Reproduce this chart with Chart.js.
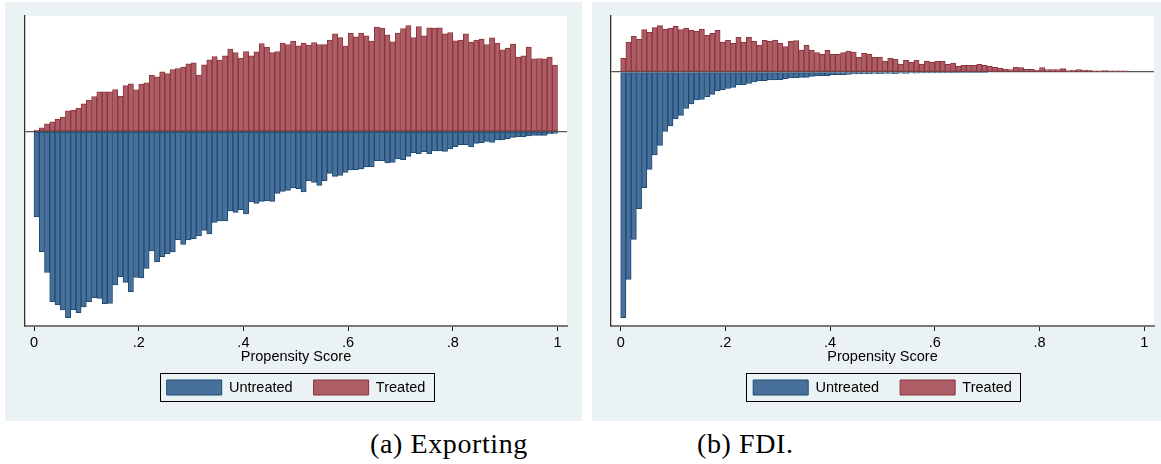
<!DOCTYPE html>
<html>
<head>
<meta charset="utf-8">
<script src="https://cdn.jsdelivr.net/npm/chart.js@4/dist/chart.umd.min.js"></script>
<style>
  body { margin: 0; background: #fff; width: 1161px; height: 464px; position: relative; overflow: hidden; }
  canvas { position: absolute; top: 2px; }
  #exp { left: 5px; }
  #fdi { left: 592px; }
  .cap { position: absolute; top: 430px; font-family: "Liberation Serif", serif; font-size: 28px; line-height: 1; letter-spacing: 0.6px; color: #000; white-space: nowrap; }
</style>
</head>
<body>
<canvas id="exp" width="577" height="419"></canvas>
<canvas id="fdi" width="569" height="419"></canvas>
<div class="cap" style="left:370px">(a) Exporting</div>
<div class="cap" style="left:697px">(b) FDI.</div>
<script>
// bins of width .01 on the propensity score, 0..1
const binWidth = 0.01;
const tickValues = [0, 0.2, 0.4, 0.6, 0.8, 1];
const tickLabels = ['0', '.2', '.4', '.6', '.8', '1'];
const seriesNames = ['Untreated', 'Treated'];

// (a) exporting - bar heights
const exportTreated = [
  1.3, 3.7, 7.7, 9.7, 12.3, 14.3, 20.7, 21.3, 23.3, 27.7,
  31.3, 35, 39.7, 39.7, 39.7, 42, 35.3, 46, 47.7, 41.7,
  47.3, 48.7, 56.3, 54.7, 59.7, 58, 62, 63, 64.3, 67.7,
  68.7, 56.3, 66.7, 71.7, 75, 71.3, 75.7, 82.3, 79, 73.3,
  80, 75.7, 79.7, 88, 84.3, 79, 80, 88.3, 87, 90.3,
  85.7, 88.3, 86.3, 89, 87, 87, 91.3, 97.7, 94, 85.3,
  98.3, 94.7, 98.3, 95.7, 90.3, 104.3, 103.3, 96.7, 89.7, 98.3,
  103, 106, 94, 105, 95.7, 103.7, 103.3, 103.7, 97.7, 99,
  90.7, 91.3, 97.7, 89.3, 91.3, 92.3, 87, 93.7, 88.3, 81.7,
  83.3, 87.3, 74.3, 75.7, 84.3, 72.7, 73, 72.7, 74.3, 66.3
];
const exportUntreated = [
  85.2, 120.2, 140.8, 170.5, 173.5, 178.5, 186.2, 178.2, 181.2, 175.5,
  170.2, 166.2, 166.8, 172.2, 171.8, 153.5, 145.2, 150.8, 160.2, 145.8,
  146.5, 136.8, 119.5, 130.5, 125.2, 122.2, 120.5, 108.2, 112.8, 108.5,
  107.2, 104.5, 98.8, 102.5, 90.8, 89.5, 89.5, 79.5, 80.8, 78.2,
  82.5, 70.5, 71.8, 69.8, 69.5, 69.8, 61.8, 59.8, 58.8, 56.5,
  57.2, 60.5, 49.2, 50.8, 53.8, 49.2, 41.8, 44.8, 43.8, 40.8,
  38.5, 38.2, 37.5, 35.5, 35.5, 29.2, 29.2, 31.5, 30.8, 27.5,
  28.2, 24.8, 21.2, 22.2, 20.2, 22.2, 19.5, 19.5, 19.8, 17.5,
  15.2, 13.2, 13.2, 15.2, 11.8, 11.2, 9.8, 10.8, 8.5, 8.5,
  7.2, 5.8, 5.2, 5.2, 4.5, 3.8, 3.8, 3.8, 2.5, 1.8
];

// (b) FDI
const fdiTreated = [
  13.7, 30, 35.7, 32.7, 42.3, 39.7, 44.3, 46.3, 42.7, 43.7,
  45.7, 42.3, 44, 41.7, 41, 43, 36.7, 38.7, 41.7, 30,
  31.7, 28.7, 34.7, 30, 34.7, 30.7, 27, 31.7, 30.7, 32,
  28.7, 25.3, 30.7, 31.3, 22, 27, 22, 19.3, 17.7, 21.7,
  17.7, 17.7, 19.3, 21, 20, 14.7, 18.7, 17.7, 14.7, 15,
  11, 14, 12.7, 8, 11.7, 9.7, 11.7, 8, 11, 10,
  10.7, 10.7, 7.7, 9, 5.7, 6.7, 6.7, 6.7, 7.7, 6.7,
  5.7, 4.7, 4, 3, 2.3, 4.7, 4.3, 2.7, 2.7, 2,
  4.3, 2.3, 2.3, 2.3, 3.3, 1.3, 1.7, 2.3, 2, 1.7,
  1.1, 1.1, 1.5, 1.1, 1.1, 1.1, 1.1
];
const fdiUntreated = [
  245.7, 207.3, 167.3, 136.7, 115.7, 97.3, 83, 73.3, 59.3, 54,
  47, 43.3, 36.3, 32, 28, 27.3, 24.7, 22.3, 18.7, 18,
  16.3, 15.3, 13, 12.7, 11.3, 10, 9, 8.7, 8, 8,
  7.7, 6.7, 6, 5.7, 5.3, 5.3, 4.3, 4, 3.7, 4,
  3, 2.7, 2.7, 2.3, 2, 2, 1.7, 2, 1.3, 1.7,
  1.5, 1.3, 1.6, 1.2, 1.3, 1.0, 1.2, 1.0, 0.9, 1.0,
  0.8, 1.0, 0.7, 0.8, 0.6, 0.7, 0.6, 0.5, 0.6, 0.5
];

const font = { family: '"Liberation Sans", Arial, sans-serif', size: 14.5 };

// gray graph region + white plot region, stata style
const panelBg = {
  id: 'panelBg',
  beforeDraw(chart) {
    const c = chart.ctx, a = chart.chartArea;
    c.save();
    c.fillStyle = '#EAF2F3';
    c.fillRect(0, 0, chart.width, chart.height);
    c.fillStyle = '#fff';
    c.fillRect(a.left, a.top, a.right - a.left, a.bottom - a.top);
    c.restore();
  }
};

// black frame round the legend
const legendFrame = {
  id: 'legendFrame',
  afterDraw(chart) {
    const hb = chart.legend.legendHitBoxes;
    if (!hb || !hb.length) return;
    const l = hb[0].left - 7;
    const r = hb[hb.length - 1].left + hb[hb.length - 1].width + 8;
    const t = hb[0].top - 7;
    const b = hb[0].top + hb[0].height + 6;
    const c = chart.ctx;
    c.save();
    c.strokeStyle = '#000';
    c.lineWidth = 1;
    c.strokeRect(Math.round(l) + 0.5, Math.round(t) + 0.5, Math.round(r - l), Math.round(b - t));
    c.restore();
  }
};

function toPoints(vals, sign) {
  return vals.map((v, i) => ({ x: (i + 0.5) * binWidth, y: sign * v }));
}

function makePanel(id, treated, untreated, xr, yr, pad) {
  return new Chart(document.getElementById(id), {
    type: 'bar',
    data: {
      datasets: [
        {
          label: seriesNames[0],
          data: toPoints(untreated, -1),
          backgroundColor: '#47709A',
          borderColor: '#1E4A74',
          borderWidth: 1,
          borderSkipped: false
        },
        {
          label: seriesNames[1],
          data: toPoints(treated, 1),
          backgroundColor: '#AD5D65',
          borderColor: '#8C333B',
          borderWidth: 1,
          borderSkipped: false
        }
      ]
    },
    options: {
      responsive: false,
      animation: false,
      devicePixelRatio: 1,
      layout: { padding: pad },
      datasets: { bar: { grouped: false, barPercentage: 1, categoryPercentage: 1 } },
      scales: {
        x: {
          type: 'linear',
          offset: false,
          min: xr[0],
          max: xr[1],
          afterBuildTicks: (ax) => { ax.ticks = tickValues.map(v => ({ value: v })); },
          afterFit: (ax) => { ax.height = 33; },
          ticks: {
            color: '#000',
            font: font,
            padding: 3,
            maxRotation: 0,
            autoSkip: false,
            callback: (v, i) => tickLabels[i]
          },
          grid: { offset: false, drawOnChartArea: false, drawTicks: true, tickLength: 5, tickColor: '#222', tickWidth: 1 },
          border: { display: true, color: '#7A7A7A', width: 2 },
          title: {
            display: true,
            text: 'Propensity Score',
            color: '#000',
            font: font,
            padding: { top: 0, bottom: -6.7 }
          }
        },
        y: {
          min: yr[0],
          max: yr[1],
          afterBuildTicks: (ax) => { ax.ticks = [{ value: 0 }]; },
          afterFit: (ax) => { ax.width = 0; },
          ticks: { display: false },
          grid: { drawTicks: false, color: '#555', lineWidth: 1.2 },
          border: { display: true, color: '#333', width: 1.3 }
        }
      },
      plugins: {
        tooltip: { enabled: false },
        legend: {
          position: 'bottom',
          labels: {
            color: '#000',
            font: font,
            boxWidth: 55,
            boxHeight: 15,
            padding: 21
          }
        }
      }
    },
    plugins: [panelBg, legendFrame]
  });
}

makePanel('exp', exportTreated, exportUntreated, [-0.0172, 1.0181], [-194.5, 115.5],
  { left: 20, top: 14, right: 15, bottom: 16 });
makePanel('fdi', fdiTreated, fdiUntreated, [-0.0185, 1.0187], [-254, 56],
  { left: 19, top: 14, right: 7, bottom: 16 });
</script>
</body>
</html>
